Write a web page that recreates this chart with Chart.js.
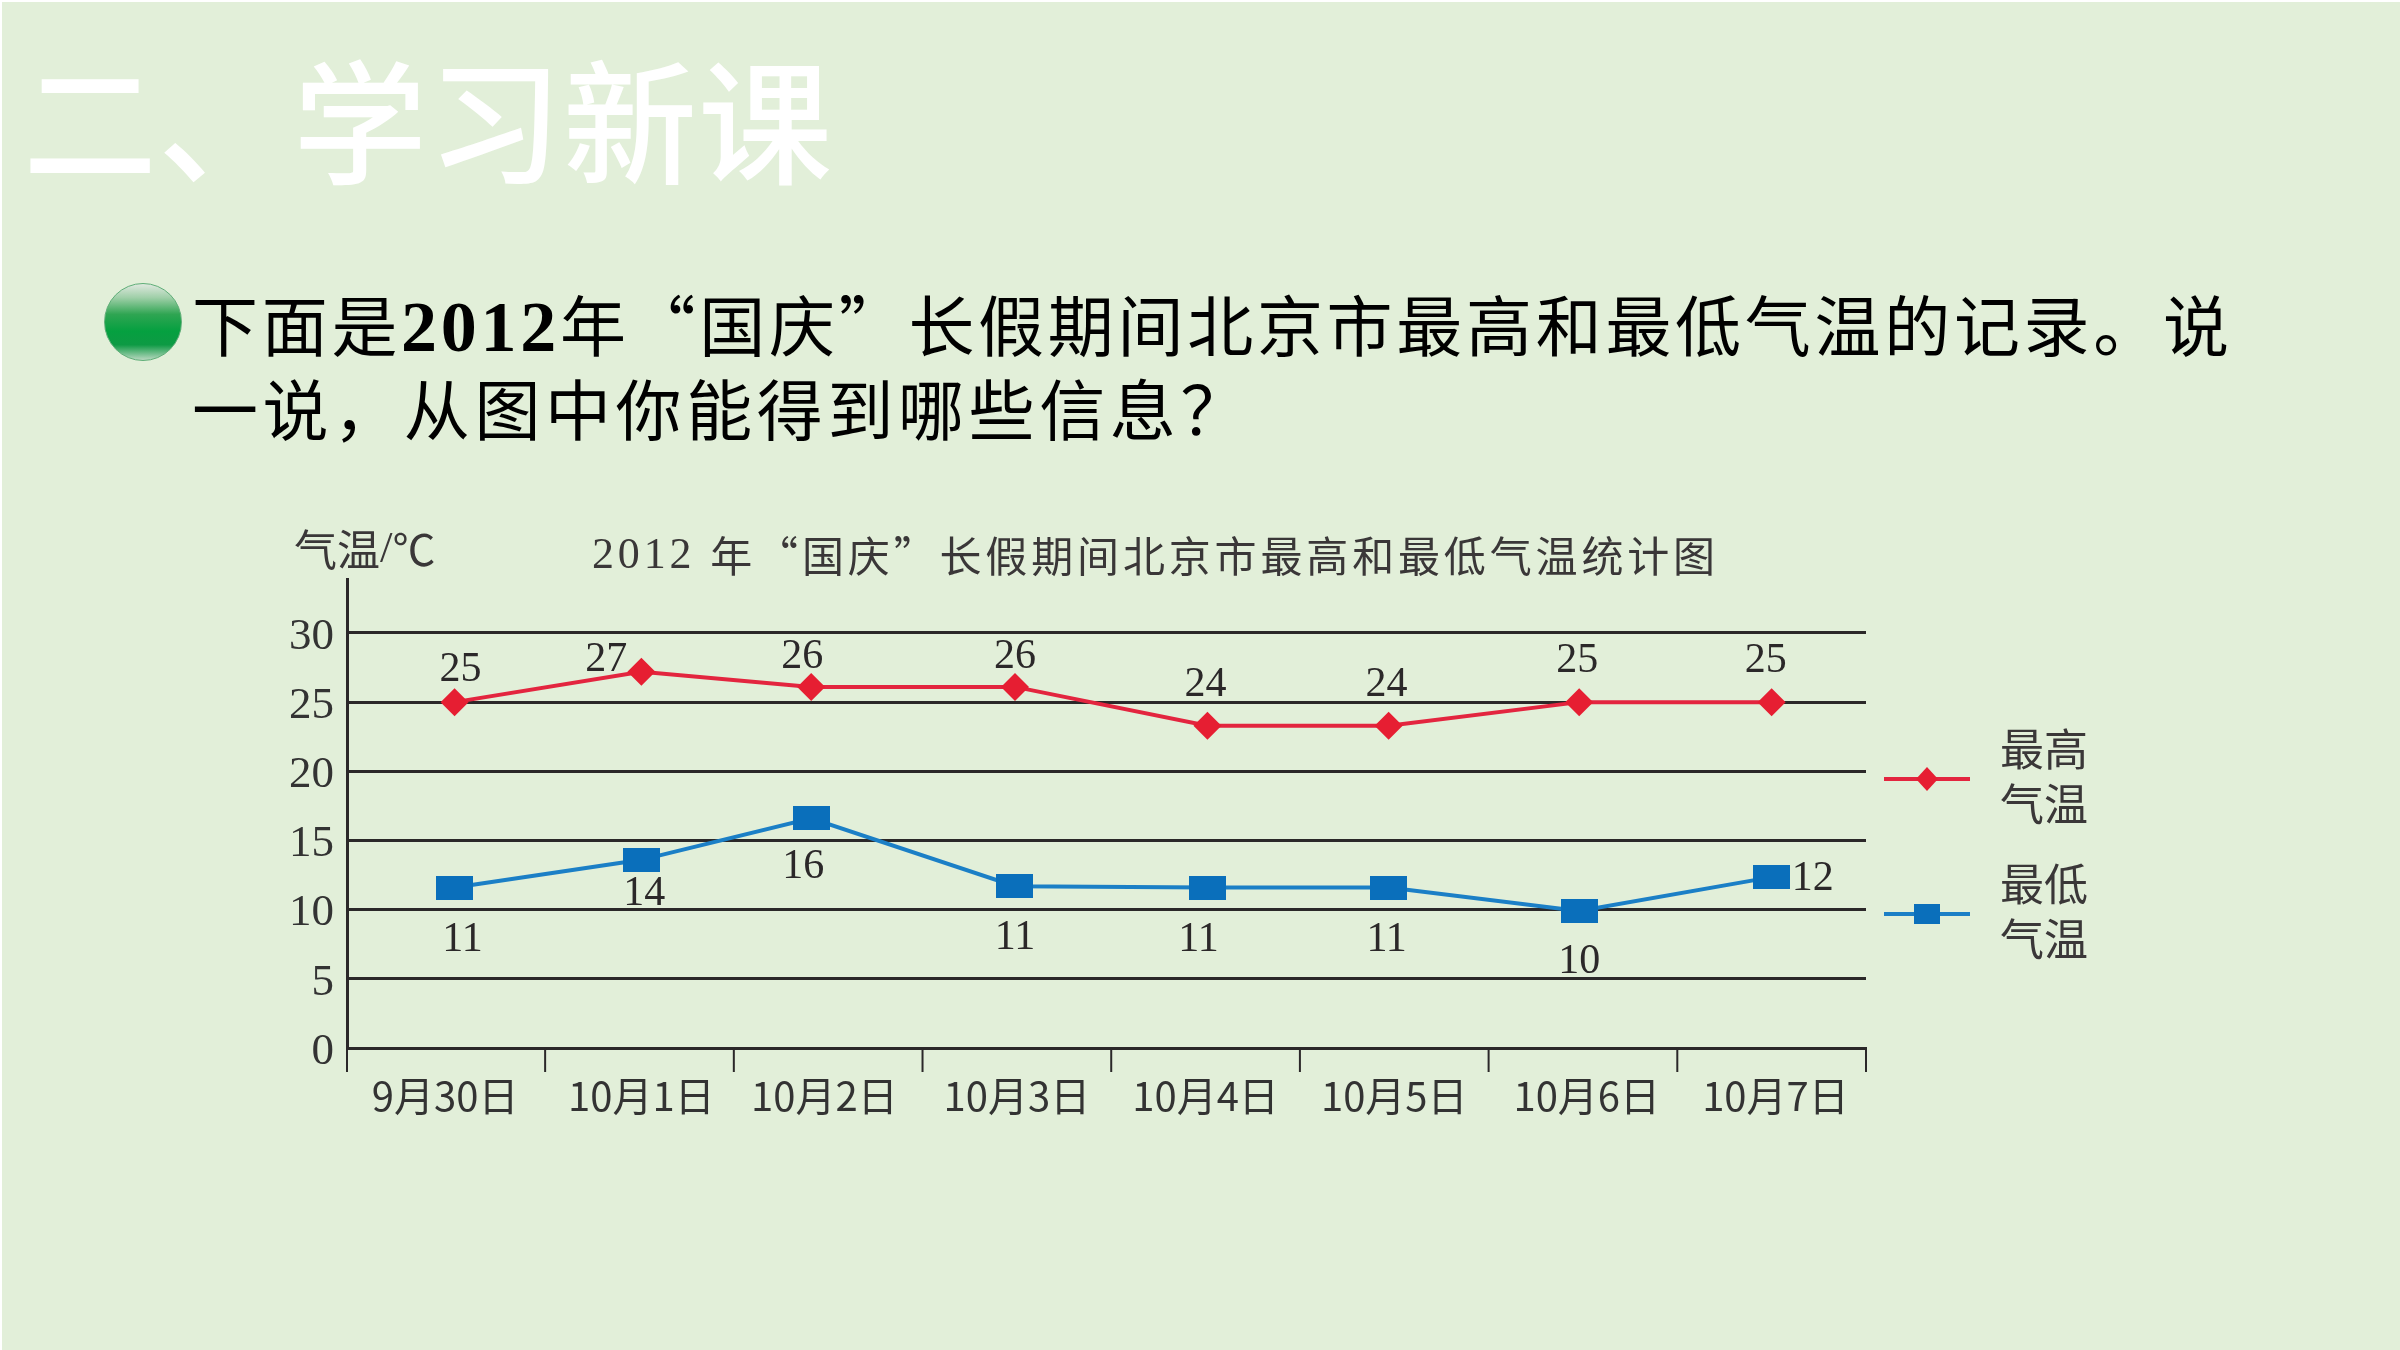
<!DOCTYPE html>
<html lang="zh-CN">
<head>
<meta charset="utf-8">
<script src="https://cdn.jsdelivr.net/npm/chart.js@4"></script>
<style>
html,body{margin:0;padding:0;width:2400px;height:1350px;overflow:hidden;background:#fff}
#slide{position:absolute;left:2px;top:2px;width:2398px;height:1348px;background:#E2EFD9}
#chart{position:absolute;left:0;top:0}
.t{position:absolute;white-space:nowrap;font-family:"Noto Sans CJK SC",sans-serif}
#head{left:23px;top:21px;font-size:134px;line-height:190px;color:#fff;font-weight:500;letter-spacing:1px}
.q{font-size:66px;line-height:84px;color:#000;font-weight:400}
.q b{font-family:"Liberation Serif",serif;font-weight:700;font-size:72px}
#q1{left:192px;top:280px;letter-spacing:3.7px}
#q2{left:192px;top:364px;letter-spacing:4.6px}
#dot{position:absolute;left:104px;top:283px;width:76px;height:76px;border-radius:50%;border:1px solid #5fae78;
 background:linear-gradient(180deg,#dfe8df 0%,#9fcfa8 18%,#2fa552 40%,#05a040 62%,#0d9a44 80%,#b9d8c0 100%)}
</style>
</head>
<body>
<div id="slide"></div>
<div class="t" id="head">二、学习新课</div>
<div id="dot"></div>
<div class="t q" id="q1">下面是<b>2012</b>年“国庆”长假期间北京市最高和最低气温的记录。说</div>
<div class="t q" id="q2">一说，从图中你能得到哪些信息？</div>
<canvas id="chart" width="2400" height="1350"></canvas>
<script>
// ---------- data ----------
const categories = ['9月30日','10月1日','10月2日','10月3日','10月4日','10月5日','10月6日','10月7日'];
const yTicks = [0,5,10,15,20,25,30];
const highName = '最高气温';
const lowName = '最低气温';
const highValues = [25,27.2,26.1,26.1,23.3,23.3,25,25];
const lowValues = [11.6,13.6,16.6,11.7,11.6,11.6,9.9,12.35];
const highLabels = ['25','27','26','26','24','24','25','25'];
const lowLabels = ['11','14','16','11','11','11','10','12'];
// position along the day axis (in day units)
const pointDays = [0.57,1.56,2.46,3.54,4.56,5.52,6.53,7.55];
const labelDays = [0.52,1.56,2.53,3.55,4.55,5.55,6.57,7.57];
const dayBounds = [0,1.05,2.05,3.05,4.05,5.05,6.05,7.05,8.05];
const chartTitle = '2012 年“国庆”长假期间北京市最高和最低气温统计图';
const yTitle = '气温/℃';

// ---------- styling ----------
const INK='#2b2829', RED='#E61E32', REDL='#E3253F', BLUE='#0A6FBB', BLUEL='#1B7FC6';
const SERIF='"Liberation Serif"', CJK='"Noto Sans CJK SC"';
const highOff = [[6,-32],[-35,-12],[-9,-30],[0,-30],[-2,-41],[-2,-41],[-2,-41],[-6,-41]];
const lowOff  = [[8,52],[3,34],[-8,49],[0,52],[-9,52],[-2,52],[0,51],[41,2]];

function box(w,h){const c=document.createElement('canvas');c.width=w;c.height=h;
  const g=c.getContext('2d');g.fillStyle=BLUE;g.fillRect(0,0,w,h);return c;}

// draws mixed text: digits and latin in the serif face, the rest in the CJK face
function runs(ctx,text,x,y,size,spacing){
  const parts=text.match(/[0-9\/ ]+|[^0-9\/ ]+/g);
  ctx.textAlign='left';ctx.textBaseline='middle';
  ctx.letterSpacing=(spacing||0)+'px';
  let cx=x;
  parts.forEach(p=>{
    ctx.font=(/^[0-9\/ ]+$/.test(p)?size+2:size)+'px '+(/^[0-9\/ ]+$/.test(p)?SERIF:CJK);
    ctx.fillText(p,cx,y);cx+=ctx.measureText(p).width;
  });
  ctx.letterSpacing='0px';
}

const decor={
  id:'decor',
  afterDatasetsDraw(chart){
    const {ctx,scales:{x,y}}=chart;
    ctx.save();
    // axis tick marks between days
    ctx.strokeStyle=INK;ctx.lineWidth=2;
    const base=y.getPixelForValue(0);
    dayBounds.forEach(d=>{const px=x.getPixelForValue(d);
      ctx.beginPath();ctx.moveTo(px,base);ctx.lineTo(px,base+24);ctx.stroke();});
    // printed values
    ctx.fillStyle=INK;ctx.font='42px '+SERIF;ctx.textAlign='center';ctx.textBaseline='middle';
    highLabels.forEach((s,i)=>ctx.fillText(s,x.getPixelForValue(pointDays[i])+highOff[i][0],y.getPixelForValue(highValues[i])+highOff[i][1]));
    lowLabels.forEach((s,i)=>ctx.fillText(s,x.getPixelForValue(pointDays[i])+lowOff[i][0],y.getPixelForValue(lowValues[i])+lowOff[i][1]));
    // titles
    ctx.fillStyle='#3a3738';
    runs(ctx,chartTitle,592,556,42,3.85);
    runs(ctx,yTitle,294,550,43,0);
    // legend
    const item=(ly,col,name,draw)=>{
      ctx.strokeStyle=col;ctx.lineWidth=4;
      ctx.beginPath();ctx.moveTo(1884,ly);ctx.lineTo(1970,ly);ctx.stroke();
      draw(1927,ly);
      ctx.fillStyle='#3a3738';
      ctx.font='44px '+CJK;ctx.textAlign='left';ctx.textBaseline='middle';
      ctx.fillText(name.slice(0,2),2000,ly-30);
      ctx.fillText(name.slice(2),2000,ly+25);
    };
    item(779,REDL,highName,(cx,cy)=>{ctx.fillStyle=RED;ctx.beginPath();
      ctx.moveTo(cx,cy-12);ctx.lineTo(cx+11,cy);ctx.lineTo(cx,cy+12);ctx.lineTo(cx-11,cy);ctx.closePath();ctx.fill();});
    item(914,BLUEL,lowName,(cx,cy)=>{ctx.fillStyle=BLUE;ctx.fillRect(cx-13,cy-10,26,20);});
    ctx.restore();
  }
};

new Chart(document.getElementById('chart'),{
  type:'line',
  data:{datasets:[
    {label:highName,data:highValues.map((v,i)=>({x:pointDays[i],y:v})),borderColor:REDL,borderWidth:4,tension:0,
     pointStyle:'rectRot',pointRadius:14,pointBackgroundColor:RED,pointBorderColor:RED,pointBorderWidth:0},
    {label:lowName,data:lowValues.map((v,i)=>({x:pointDays[i],y:v})),borderColor:BLUEL,borderWidth:4,tension:0,
     pointStyle:box(37,24),pointRadius:14,pointBackgroundColor:BLUE,pointBorderColor:BLUE,pointBorderWidth:0}
  ]},
  options:{
    responsive:false,animation:false,
    layout:{padding:{left:250,right:534,top:579,bottom:230}},
    plugins:{legend:{display:false},title:{display:false},tooltip:{enabled:false}},
    scales:{
      x:{type:'linear',min:0,max:8.05,
        afterBuildTicks(a){a.ticks=labelDays.map(v=>({value:v}));},
        afterFit(a){a.height=72;},
        grid:{display:false},
        border:{display:true,color:INK,width:3},
        ticks:{autoSkip:false,maxRotation:0,padding:16,color:'#333',
          font:{family:CJK.replace(/"/g,''),size:40},
          callback:(v,i)=>categories[i]}},
      y:{type:'linear',min:0,max:33.9,
        afterBuildTicks(a){a.ticks=yTicks.map(v=>({value:v}));},
        afterFit(a){a.width=97;},
        grid:{color:INK,lineWidth:3,drawTicks:false},
        border:{display:true,color:INK,width:3},
        ticks:{padding:13,labelOffset:4,color:'#333',font:{family:'Liberation Serif',size:45}}}
    }
  },
  plugins:[decor]
});
</script>
</body>
</html>
